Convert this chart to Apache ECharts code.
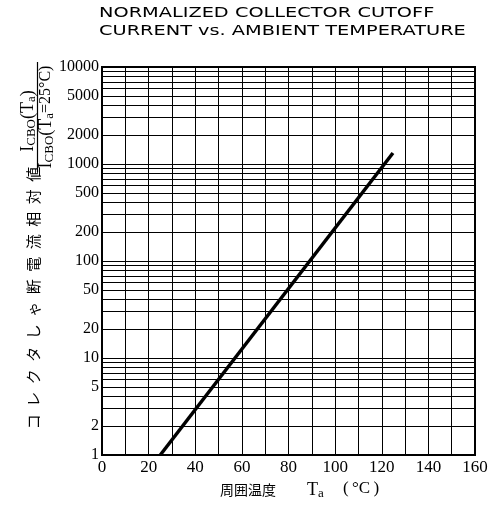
<!DOCTYPE html>
<html>
<head>
<meta charset="utf-8">
<script src="https://cdn.jsdelivr.net/npm/echarts@6/dist/echarts.min.js"></script>
<style>
html,body{margin:0;padding:0;background:#fff;}
#chart{width:497px;height:507px;}
</style>
</head>
<body>
<div id="chart"></div>
<script>
// ---- data ----
const titleLines = ['NORMALIZED COLLECTOR CUTOFF', 'CURRENT vs. AMBIENT TEMPERATURE'];
const curveTemp = [25, 124.8];          // Ta (°C)
const curveRatio = [1, 1300];           // ICBO(Ta)/ICBO(25°C)
const xMin = 0, xMax = 160, xStep = 20;
const yTickLabels = [1, 2, 5, 10, 20, 50, 100, 200, 500, 1000, 2000, 5000, 10000];
const yGridValues = [1, 2, 3, 4, 5, 6, 7, 8, 9,
  10, 20, 30, 40, 50, 60, 70, 80, 90,
  100, 200, 300, 400, 500, 600, 700, 800, 900,
  1000, 2000, 3000, 4000, 5000, 6000, 7000, 8000, 9000, 10000];
const yLabelJa = 'コレクタしゃ断電流相対値';
const xLabelJa = '周囲温度';

// ---- chart ----
const chart = echarts.init(document.getElementById('chart'), null, {renderer: 'canvas'});
const serif = '"Liberation Serif", "DejaVu Serif", serif';
const gridLeft = 102, gridTop = 67, gridRight = 22, gridBottom = 52;

const gridMarks = yGridValues.map(v => ({
  yAxis: v,
  label: {show: yTickLabels.indexOf(v) >= 0}
}));

const rich = {
  m: {fontFamily: serif, fontSize: 18, color: '#000', verticalAlign: 'middle', lineHeight: 20},
  k: {fontFamily: serif, fontSize: 16, color: '#000', verticalAlign: 'middle', lineHeight: 20},
  s: {fontFamily: serif, fontSize: 13, color: '#000', verticalAlign: 'bottom', lineHeight: 20, padding: [3, 0, 0, 0]}
};

const option = {
  animation: false,
  backgroundColor: '#fff',
  grid: {left: gridLeft, top: gridTop, right: gridRight, bottom: gridBottom,
    show: true, borderColor: '#000', borderWidth: 2, backgroundColor: 'transparent'},
  xAxis: {
    type: 'value', min: xMin, max: xMax, interval: xStep,
    axisLine: {show: true, lineStyle: {color: '#000', width: 2}},
    axisTick: {show: false},
    axisLabel: {color: '#000', fontFamily: serif, fontSize: 17, margin: 4},
    splitLine: {show: true, lineStyle: {color: '#000', width: 1}},
    minorTick: {show: false, splitNumber: 2},
    minorSplitLine: {show: true, lineStyle: {color: '#000', width: 1}}
  },
  yAxis: {
    type: 'log', logBase: 10, min: 1, max: 10000,
    axisLine: {show: true, lineStyle: {color: '#000', width: 2}},
    axisTick: {show: false},
    axisLabel: {show: false},
    splitLine: {show: false}
  },
  series: [
    {
      type: 'line', data: [], silent: true,
      markLine: {
        silent: true, animation: false,
        symbol: ['none', 'none'],
        lineStyle: {color: '#000', width: 1, type: 'solid'},
        label: {position: 'start', distance: 3, color: '#000', fontFamily: serif, fontSize: 16,
          formatter: p => String(p.value)},
        emphasis: {disabled: true},
        data: gridMarks
      }
    },
    {
      type: 'line', z: 5,
      data: curveTemp.map((t, i) => [t, curveRatio[i]]),
      symbol: 'none',
      lineStyle: {color: '#000', width: 3.5}
    }
  ],
  graphic: [
    {type: 'text', x: 99, y: 13, scaleX: 1.38, style: {text: titleLines[0], fontFamily: '"DejaVu Sans", sans-serif', fontSize: 14, fill: '#000', textAlign: 'left', verticalAlign: 'middle'}},
    {type: 'text', x: 99, y: 31, scaleX: 1.38, style: {text: titleLines[1], fontFamily: '"DejaVu Sans", sans-serif', fontSize: 14, fill: '#000', textAlign: 'left', verticalAlign: 'middle'}},
    // y label: fraction
    {type: 'text', x: 28, y: 121, rotation: Math.PI / 2,
      style: {text: '{m|I}{s|CBO}{m|(T}{s|a}{m|)}', rich: rich, textAlign: 'center', verticalAlign: 'middle', fill: '#000'}},
    {type: 'line', shape: {x1: 37.5, y1: 62, x2: 37.5, y2: 172}, style: {stroke: '#000', lineWidth: 1.2}},
    {type: 'text', x: 46, y: 117, rotation: Math.PI / 2,
      style: {text: '{m|I}{s|CBO}{m|(T}{s|a}{k|=25°C)}', rich: rich, textAlign: 'center', verticalAlign: 'middle', fill: '#000'}},
    {type: 'text', x: 33, y: 298, rotation: Math.PI / 2,
      style: {text: yLabelJa.split('').join('\u2002'), fontFamily: '"Noto Sans CJK JP", sans-serif', fontSize: 15, fill: '#000', textAlign: 'center', verticalAlign: 'middle'}},
    // x label
    {type: 'text', x: 220, y: 490,
      style: {text: xLabelJa, fontFamily: '"Noto Sans CJK JP", sans-serif', fontSize: 14, fill: '#000', textAlign: 'left', verticalAlign: 'middle'}},
    {type: 'text', x: 307, y: 490,
      style: {text: '{m|T}{s|a}', rich: rich, textAlign: 'left', verticalAlign: 'middle', fill: '#000'}},
    {type: 'text', x: 343, y: 489,
      style: {text: '(\u2009°C\u2009)', fontFamily: serif, fontSize: 17, fill: '#000', textAlign: 'left', verticalAlign: 'middle'}}
  ]
};
chart.setOption(option);
</script>
</body>
</html>
